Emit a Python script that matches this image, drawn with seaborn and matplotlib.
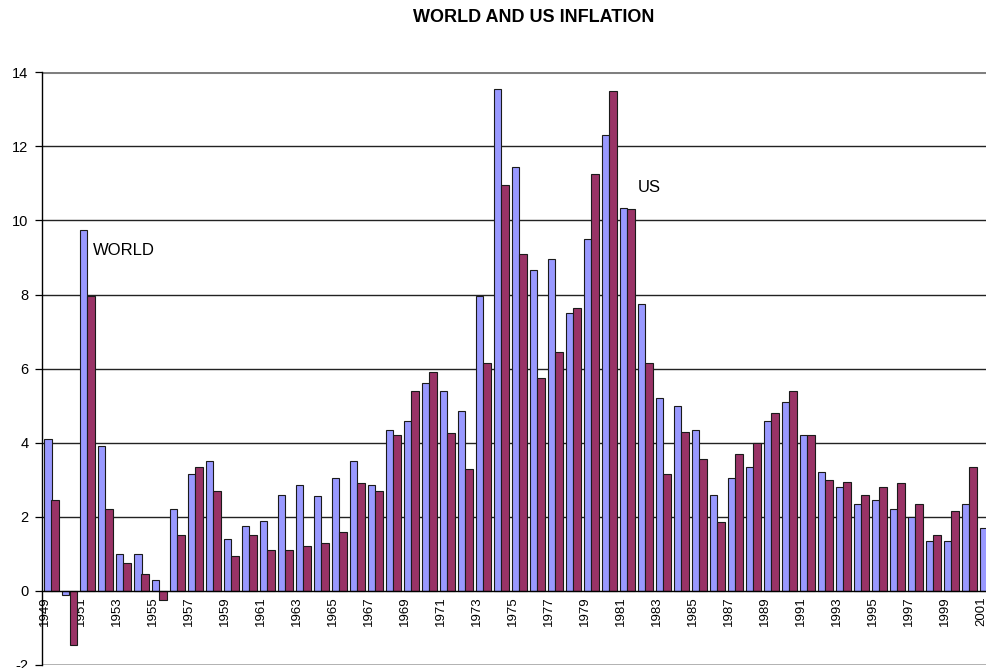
import numpy as np
import pandas as pd
import matplotlib
matplotlib.use("Agg")
import matplotlib.pyplot as plt
import seaborn as sns

# Annual inflation rates (%), 1949-2001
years = [str(y) for y in range(1949, 2002)]
world = [4.1, -0.1, 9.75, 3.9, 1.0, 1.0, 0.3, 2.2, 3.15, 3.5,
         1.4, 1.75, 1.9, 2.6, 2.85, 2.55, 3.05, 3.5, 2.85, 4.35,
         4.6, 5.6, 5.4, 4.85, 7.95, 13.55, 11.45, 8.65, 8.95, 7.5,
         9.5, 12.3, 10.35, 7.75, 5.2, 5.0, 4.35, 2.6, 3.05, 3.35,
         4.6, 5.1, 4.2, 3.2, 2.8, 2.35, 2.45, 2.2, 2.0, 1.35,
         1.35, 2.35, 1.7]
us = [2.45, -1.45, 7.95, 2.2, 0.75, 0.45, -0.25, 1.5, 3.35, 2.7,
      0.95, 1.5, 1.1, 1.1, 1.2, 1.3, 1.6, 2.9, 2.7, 4.2,
      5.4, 5.9, 4.25, 3.3, 6.15, 10.95, 9.1, 5.75, 6.45, 7.65,
      11.25, 13.5, 10.3, 6.15, 3.15, 4.3, 3.55, 1.85, 3.7, 4.0,
      4.8, 5.4, 4.2, 3.0, 2.95, 2.6, 2.8, 2.9, 2.35, 1.5,
      2.15, 3.35, np.nan]
series = ["WORLD", "US"]
colors = {"WORLD": "#9999FF", "US": "#993366"}
yticks = list(range(-2, 15, 2))

df = pd.DataFrame({
    "year": years * 2,
    "series": ["WORLD"] * len(years) + ["US"] * len(years),
    "rate": world + us,
}).dropna()

sns.set_theme(style="white")
plt.rcParams["font.family"] = ["Liberation Sans", "DejaVu Sans"]
plt.rcParams["text.color"] = "black"
plt.rcParams["xtick.color"] = "black"
plt.rcParams["ytick.color"] = "black"
plt.rcParams["xtick.labelcolor"] = "black"
plt.rcParams["ytick.labelcolor"] = "black"

W, H = 987, 668
fig = plt.figure(figsize=(W / 100, H / 100), dpi=100)
fig.patch.set_facecolor("white")

# plot area: left edge at 42.5 px, 18 px per year, y from -2 (665 px) to 14 (72 px)
left = 42.5 / W
width = len(years) * 18 / W
bottom = (H - 665) / H
height = (665 - 72.3) / H
ax = fig.add_axes([left, bottom, width, height])

sns.barplot(data=df, x="year", y="rate", hue="series", order=years,
            hue_order=series, palette=colors, saturation=1, width=0.8,
            errorbar=None, edgecolor="#1a1a1a", linewidth=0.8,
            legend=False, ax=ax)

ax.set_xlim(-0.5, len(years) - 0.5)
ax.set_ylim(-2, 14)
ax.set_xlabel("")
ax.set_ylabel("")

# horizontal gridlines
for v in yticks[2:-1]:
    ax.axhline(v, color="#222222", lw=1.0, zorder=0)
ax.axhline(14, color="#808080", lw=2.2, zorder=0)
ax.axhline(-2, color="#9a9a9a", lw=1.8, zorder=0)

for s in ["top", "right"]:
    ax.spines[s].set_visible(False)
ax.spines["left"].set_color("black")
ax.spines["left"].set_linewidth(1.0)
ax.spines["bottom"].set_position(("data", 0))
ax.spines["bottom"].set_color("black")
ax.spines["bottom"].set_linewidth(1.0)

ax.set_yticks(yticks)
ax.set_yticklabels([str(v) for v in yticks], fontsize=10.5)
ax.tick_params(axis="y", direction="out", length=5, width=0.9,
               color="black", pad=5, left=True)

idx = np.arange(0, len(years), 2)
ax.set_xticks(idx - 0.36)
ax.set_xticklabels([years[i] for i in idx], rotation=90, fontsize=9.5,
                   va="top", ha="center")
ax.tick_params(axis="x", length=0, pad=4)

ax.text(2.32, 9.18, "WORLD", fontsize=12, ha="left", va="center")
ax.text(32.57, 10.9, "US", fontsize=12, ha="left", va="center")

fig.text(534 / W, 1 - 18 / H, "WORLD AND US INFLATION", fontsize=13,
         fontweight="bold", ha="center", va="center")

fig.savefig("out.png", dpi=100, facecolor="white")
